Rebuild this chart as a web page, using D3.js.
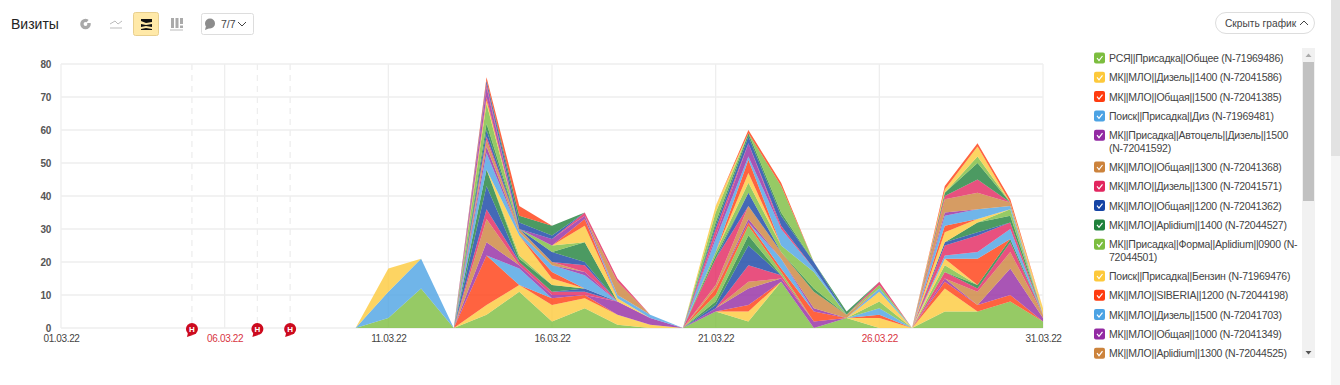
<!DOCTYPE html>
<html>
<head>
<meta charset="utf-8">
<script src="https://cdnjs.cloudflare.com/ajax/libs/d3/7.8.5/d3.min.js"></script>
<style>
  html, body { margin: 0; padding: 0; background: #fff; }
  svg { display: block; }
  text { font-family: "Liberation Sans", Arial, sans-serif; }
  .grid line { stroke: #eeeeee; stroke-width: 1.3; }
  .axis path, .axis line { display: none; }
  .axis text { font-size: 10px; fill: #444; letter-spacing: -0.35px; }
  .legend text { font-size: 10.5px; fill: #444; letter-spacing: -0.24px; }
</style>
</head>
<body>
<svg id="chart" width="1340" height="385"></svg>
<script>
const legendNames = [
    "РСЯ||Присадка||Общее (N-71969486)",
    "МК||МЛО||Дизель||1400 (N-72041586)",
    "МК||МЛО||Общая||1500 (N-72041385)",
    "Поиск||Присадка||Диз (N-71969481)",
    "МК||Присадка||Автоцель||Дизель||1500\n(N-72041592)",
    "МК||МЛО||Общая||1300 (N-72041368)",
    "МК||МЛО||Дизель||1300 (N-72041571)",
    "МК||МЛО||Общая||1200 (N-72041362)",
    "МК||МЛО||Aplidium||1400 (N-72044527)",
    "МК||Присадка||Форма||Aplidium||0900 (N-\n72044501)",
    "Поиск||Присадка||Бензин (N-71969476)",
    "МК||МЛО||SIBERIA||1200 (N-72044198)",
    "МК||МЛО||Дизель||1500 (N-72041703)",
    "МК||МЛО||Общая||1000 (N-72041349)",
    "МК||МЛО||Aplidium||1300 (N-72044525)"
];

const palette = ["#7cbd3f", "#fdc93b", "#ff3c10", "#4ca3e4", "#932aa3", "#cc833c", "#e2265f", "#1544a5", "#1f813b"];

const days = d3.range(1, 32);
const yTicks = [0, 10, 20, 30, 40, 50, 60, 70, 80];
const dateTicks = [1, 6, 11, 16, 21, 26, 31];
const redDays = [6, 26];
const holidayDays = [5, 7, 8];

// days that have any visits, the columns of visits below. all other days are 0
const activeDays = [11, 12, 14, 15, 16, 17, 18, 19, 21, 22, 23, 24, 25, 26, 28, 29, 30, 31];
const visits = [
    [3, 12, 4, 11, 2, 6, 1, 0, 5, 2, 14, 0, 3, 0, 5, 5, 8, 2],
    [0, 0, 3, 2, 5, 3, 3, 1, 0, 3, 0, 0, 0, 3, 7, 0, 0, 0],
    [0, 0, 15, 0, 2, 1, 0, 0, 0, 2, 0, 0, 0, 1, 2, 2, 2, 0],
    [8, 9, 0, 5, 0, 0, 0, 0, 0, 0, 0, 0, 0, 2, 0, 0, 0, 0],
    [0, 0, 4, 1, 1, 0, 4, 2, 1, 5, 1, 2, 0, 0, 1, 0, 8, 1],
    [0, 0, 7, 0, 0, 0, 0, 0, 0, 2, 0, 0, 0, 0, 0, 4, 5, 1],
    [0, 0, 3, 1, 1, 1, 0, 0, 0, 5, 1, 0, 0, 0, 2, 1, 3, 0],
    [0, 0, 7, 0, 0, 1, 0, 0, 1, 6, 0, 0, 0, 0, 0, 0, 0, 0],
    [0, 0, 5, 1, 2, 0, 0, 0, 1, 3, 0, 0, 0, 0, 0, 1, 1, 0],
    [0, 0, 0, 1, 0, 0, 0, 0, 2, 3, 1, 0, 0, 2, 2, 0, 0, 0],
    [7, 0, 0, 6, 2, 0, 0, 0, 0, 0, 0, 0, 0, 3, 2, 0, 0, 0],
    [0, 0, 0, 0, 2, 0, 0, 0, 2, 1, 1, 3, 0, 0, 0, 8, 0, 0],
    [0, 0, 5, 1, 2, 4, 0, 0, 0, 0, 3, 0, 0, 1, 1, 2, 3, 0],
    [0, 0, 2, 0, 0, 1, 0, 0, 0, 1, 0, 1, 0, 0, 0, 0, 0, 0],
    [0, 0, 2, 1, 1, 0, 0, 0, 1, 4, 2, 5, 1, 0, 0, 0, 0, 0],
    [0, 0, 1, 0, 0, 2, 0, 0, 8, 0, 0, 0, 0, 0, 3, 5, 2, 0],
    [0, 0, 2, 0, 3, 1, 0, 0, 0, 4, 0, 0, 0, 0, 1, 1, 0, 0],
    [0, 0, 2, 0, 0, 6, 0, 0, 1, 0, 0, 1, 0, 0, 0, 3, 2, 0],
    [0, 0, 6, 0, 2, 0, 0, 0, 1, 3, 2, 5, 0, 1, 0, 0, 2, 0],
    [0, 0, 1, 0, 0, 5, 1, 0, 0, 3, 0, 0, 0, 0, 3, 1, 0, 0],
    [0, 0, 1, 0, 0, 2, 0, 0, 0, 4, 0, 0, 0, 0, 2, 0, 0, 0],
    [0, 0, 0, 0, 0, 0, 1, 1, 4, 1, 5, 1, 0, 0, 3, 3, 1, 0],
    [0, 0, 3, 0, 2, 1, 0, 0, 1, 4, 0, 0, 0, 0, 1, 0, 0, 0],
    [0, 0, 0, 0, 0, 0, 4, 0, 0, 0, 0, 0, 0, 0, 4, 5, 1, 0],
    [0, 0, 1, 0, 0, 1, 1, 0, 2, 0, 1, 0, 0, 1, 1, 4, 0, 0],
    [0, 0, 1, 2, 1, 0, 0, 0, 1, 2, 3, 2, 0, 0, 0, 0, 0, 0],
    [0, 0, 0, 2, 3, 0, 0, 0, 1, 1, 1, 0, 1, 0, 1, 5, 0, 0],
    [0, 0, 0, 0, 0, 0, 0, 0, 3, 0, 8, 0, 0, 0, 0, 2, 0, 0],
    [0, 0, 0, 0, 0, 0, 0, 0, 2, 0, 0, 0, 0, 0, 1, 3, 0, 2],
    [0, 0, 1, 3, 0, 0, 0, 0, 0, 1, 1, 0, 0, 0, 1, 1, 1, 0]
];

const svg = d3.select("#chart");

const margin = { top: 64, left: 61 },
    innerWidth = 982,
    innerHeight = 264;

const xScale = d3.scaleLinear().domain([1, 31]).range([0, innerWidth]);
const yScale = d3.scaleLinear().domain([0, 80]).range([innerHeight, 0]);

const pad = d => String(d).padStart(2, "0");
const dayLabel = d => pad(d) + ".03.22";

const table = days.map(day => {
    const row = { day: day };
    const col = activeDays.indexOf(day);
    visits.forEach((v, i) => { row[i] = col < 0 ? 0 : v[col]; });
    return row;
});
const stacked = d3.stack().keys(visits.map((v, i) => i))(table);

const g = svg.append("g").attr("transform", `translate(${margin.left},${margin.top})`);

// grid
const grid = g.append("g").attr("class", "grid");
grid.selectAll(".h").data(yTicks).enter().append("line")
    .attr("x1", 0).attr("x2", innerWidth)
    .attr("y1", d => yScale(d)).attr("y2", d => yScale(d));
grid.selectAll(".v").data(dateTicks).enter().append("line")
    .attr("x1", d => xScale(d)).attr("x2", d => xScale(d))
    .attr("y1", 0).attr("y2", innerHeight);
grid.selectAll(".hol").data(holidayDays).enter().append("line")
    .attr("x1", d => xScale(d)).attr("x2", d => xScale(d))
    .attr("y1", 0).attr("y2", innerHeight)
    .style("stroke-dasharray", "6,5");

// stacked areas
const area = d3.area()
    .x(d => xScale(d.data.day))
    .y0(d => yScale(d[0]))
    .y1(d => yScale(d[1]));

g.selectAll(".layer").data(stacked).enter().append("path")
    .attr("class", "layer")
    .attr("d", area)
    .attr("fill", (d, i) => palette[i % palette.length])
    .attr("fill-opacity", 0.8);

// axes
g.append("g").attr("class", "axis")
    .call(d3.axisLeft(yScale).tickValues(yTicks).tickSize(0).tickPadding(10))
    .selectAll("text").style("font-weight", "bold").style("fill", "#555");

const xAxis = g.append("g").attr("class", "axis")
    .attr("transform", `translate(0,${innerHeight})`)
    .call(d3.axisBottom(xScale).tickValues(dateTicks).tickFormat(dayLabel).tickSize(0).tickPadding(7));
xAxis.selectAll("text")
    .style("fill", d => redDays.includes(d) ? "#d8343f" : "#444");

// holiday pins
const pins = g.selectAll(".pin").data(holidayDays).enter().append("g")
    .attr("transform", d => `translate(${xScale(d)},${innerHeight + 1})`);
pins.append("path").attr("d", "M-4,4 L-5,8 L1,6 Z").attr("fill", "#cc0a1e");
pins.append("circle").attr("r", 6).attr("fill", "#cc0a1e");
pins.append("text").attr("text-anchor", "middle").attr("y", 3)
    .style("font-size", "8px").style("font-weight", "bold").attr("fill", "#fff").text("Н");

// toolbar
svg.append("text").attr("x", 11).attr("y", 29).style("font-size", "14px").attr("fill", "#222").text("Визиты");

// pie icon
svg.append("circle").attr("cx", 85.5).attr("cy", 24).attr("r", 3.6)
    .attr("fill", "none").attr("stroke", "#a9a9a9").attr("stroke-width", 3.4);
svg.append("path").attr("d", "M86,23 L91,17 L93,23 Z").attr("fill", "#fff");
// line icon
svg.append("path").attr("d", "M110,24 L115,21 L118,24 L122,21").attr("fill", "none").attr("stroke", "#bbb");
svg.append("path").attr("d", "M110,28 H122").attr("stroke", "#bbb").attr("stroke-width", 1);
// stacked icon, active
svg.append("rect").attr("x", 133.5).attr("y", 12.5).attr("width", 25).attr("height", 23).attr("rx", 2)
    .attr("fill", "#ffe9a8").attr("stroke", "#e8cf8e");
svg.append("path").attr("d", "M141,19 H152 V22 L146,23 L141,21 Z M141,24 L146,25 L152,24 V27 L146,26 L141,27 Z M141,29 L146,28 L152,29 V30 H141 Z")
    .attr("fill", "#111");
// columns icon
svg.append("path").attr("d", "M171,18 h3 v10 h-3 Z M175.5,18 h3 v10 h-3 Z M180,18 h3 v6 h-3 Z M180,25.5 h3 v2.5 h-3 Z").attr("fill", "#aaa");
svg.append("path").attr("d", "M170,30 H183").attr("stroke", "#bbb");

// comments dropdown
svg.append("rect").attr("x", 201.5).attr("y", 13.5).attr("width", 52).attr("height", 21).attr("rx", 2)
    .attr("fill", "#fff").attr("stroke", "#ddd");
svg.append("circle").attr("cx", 210).attr("cy", 23.5).attr("r", 5).attr("fill", "#8c8c8c");
svg.append("path").attr("d", "M206,26 L205,30 L210,28 Z").attr("fill", "#8c8c8c");
svg.append("text").attr("x", 221).attr("y", 28).style("font-size", "10.5px").attr("fill", "#444").text("7/7");
svg.append("path").attr("d", "M238,22 L242,26 L246,22").attr("fill", "none").attr("stroke", "#444").attr("stroke-width", 1);

// hide button
svg.append("rect").attr("x", 1215.5).attr("y", 12.5).attr("width", 99).attr("height", 21).attr("rx", 10.5)
    .attr("fill", "#fff").attr("stroke", "#ddd");
svg.append("text").attr("x", 1225).attr("y", 26.5).style("font-size", "10.2px").attr("fill", "#444").text("Скрыть график");
svg.append("path").attr("d", "M1300,25 L1304,21 L1308,25").attr("fill", "none").attr("stroke", "#444").attr("stroke-width", 1);

// legend
const legend = svg.append("g").attr("class", "legend");
let legendY = 58;
legendNames.forEach((name, i) => {
    const lines = name.split("\n");
    const item = legend.append("g").attr("transform", `translate(1094,${legendY})`);
    item.append("rect").attr("y", -5.5).attr("width", 11).attr("height", 11).attr("rx", 2)
        .attr("fill", palette[i % palette.length]);
    item.append("path").attr("d", "M3,0 L5,2.5 L8.5,-2").attr("fill", "none").attr("stroke", "#fff").attr("stroke-width", 1.2);
    item.selectAll("text").data(lines).enter().append("text")
        .attr("x", 15).attr("y", (d, j) => 4 + j * 12.5).text(d => d);
    legendY += 19.3 + (lines.length - 1) * 12.5;
});

// legend scrollbar
svg.append("rect").attr("x", 1302).attr("y", 48).attr("width", 13).attr("height", 310).attr("fill", "#f1f1f1");
svg.append("rect").attr("x", 1303).attr("y", 62).attr("width", 11).attr("height", 139).attr("fill", "#c1c1c1");
svg.append("path").attr("d", "M1305.5,57 L1308.5,53.5 L1311.5,57 Z").attr("fill", "#aaa");
svg.append("path").attr("d", "M1305.5,351 L1308.5,354.5 L1311.5,351 Z").attr("fill", "#555");

// page scrollbar
svg.append("rect").attr("x", 1331).attr("y", 0).attr("width", 9).attr("height", 385).attr("fill", "#f5f5f5");
svg.append("rect").attr("x", 1331).attr("y", 0).attr("width", 9).attr("height", 156).attr("fill", "#e2e2e2");
</script>
</body>
</html>
